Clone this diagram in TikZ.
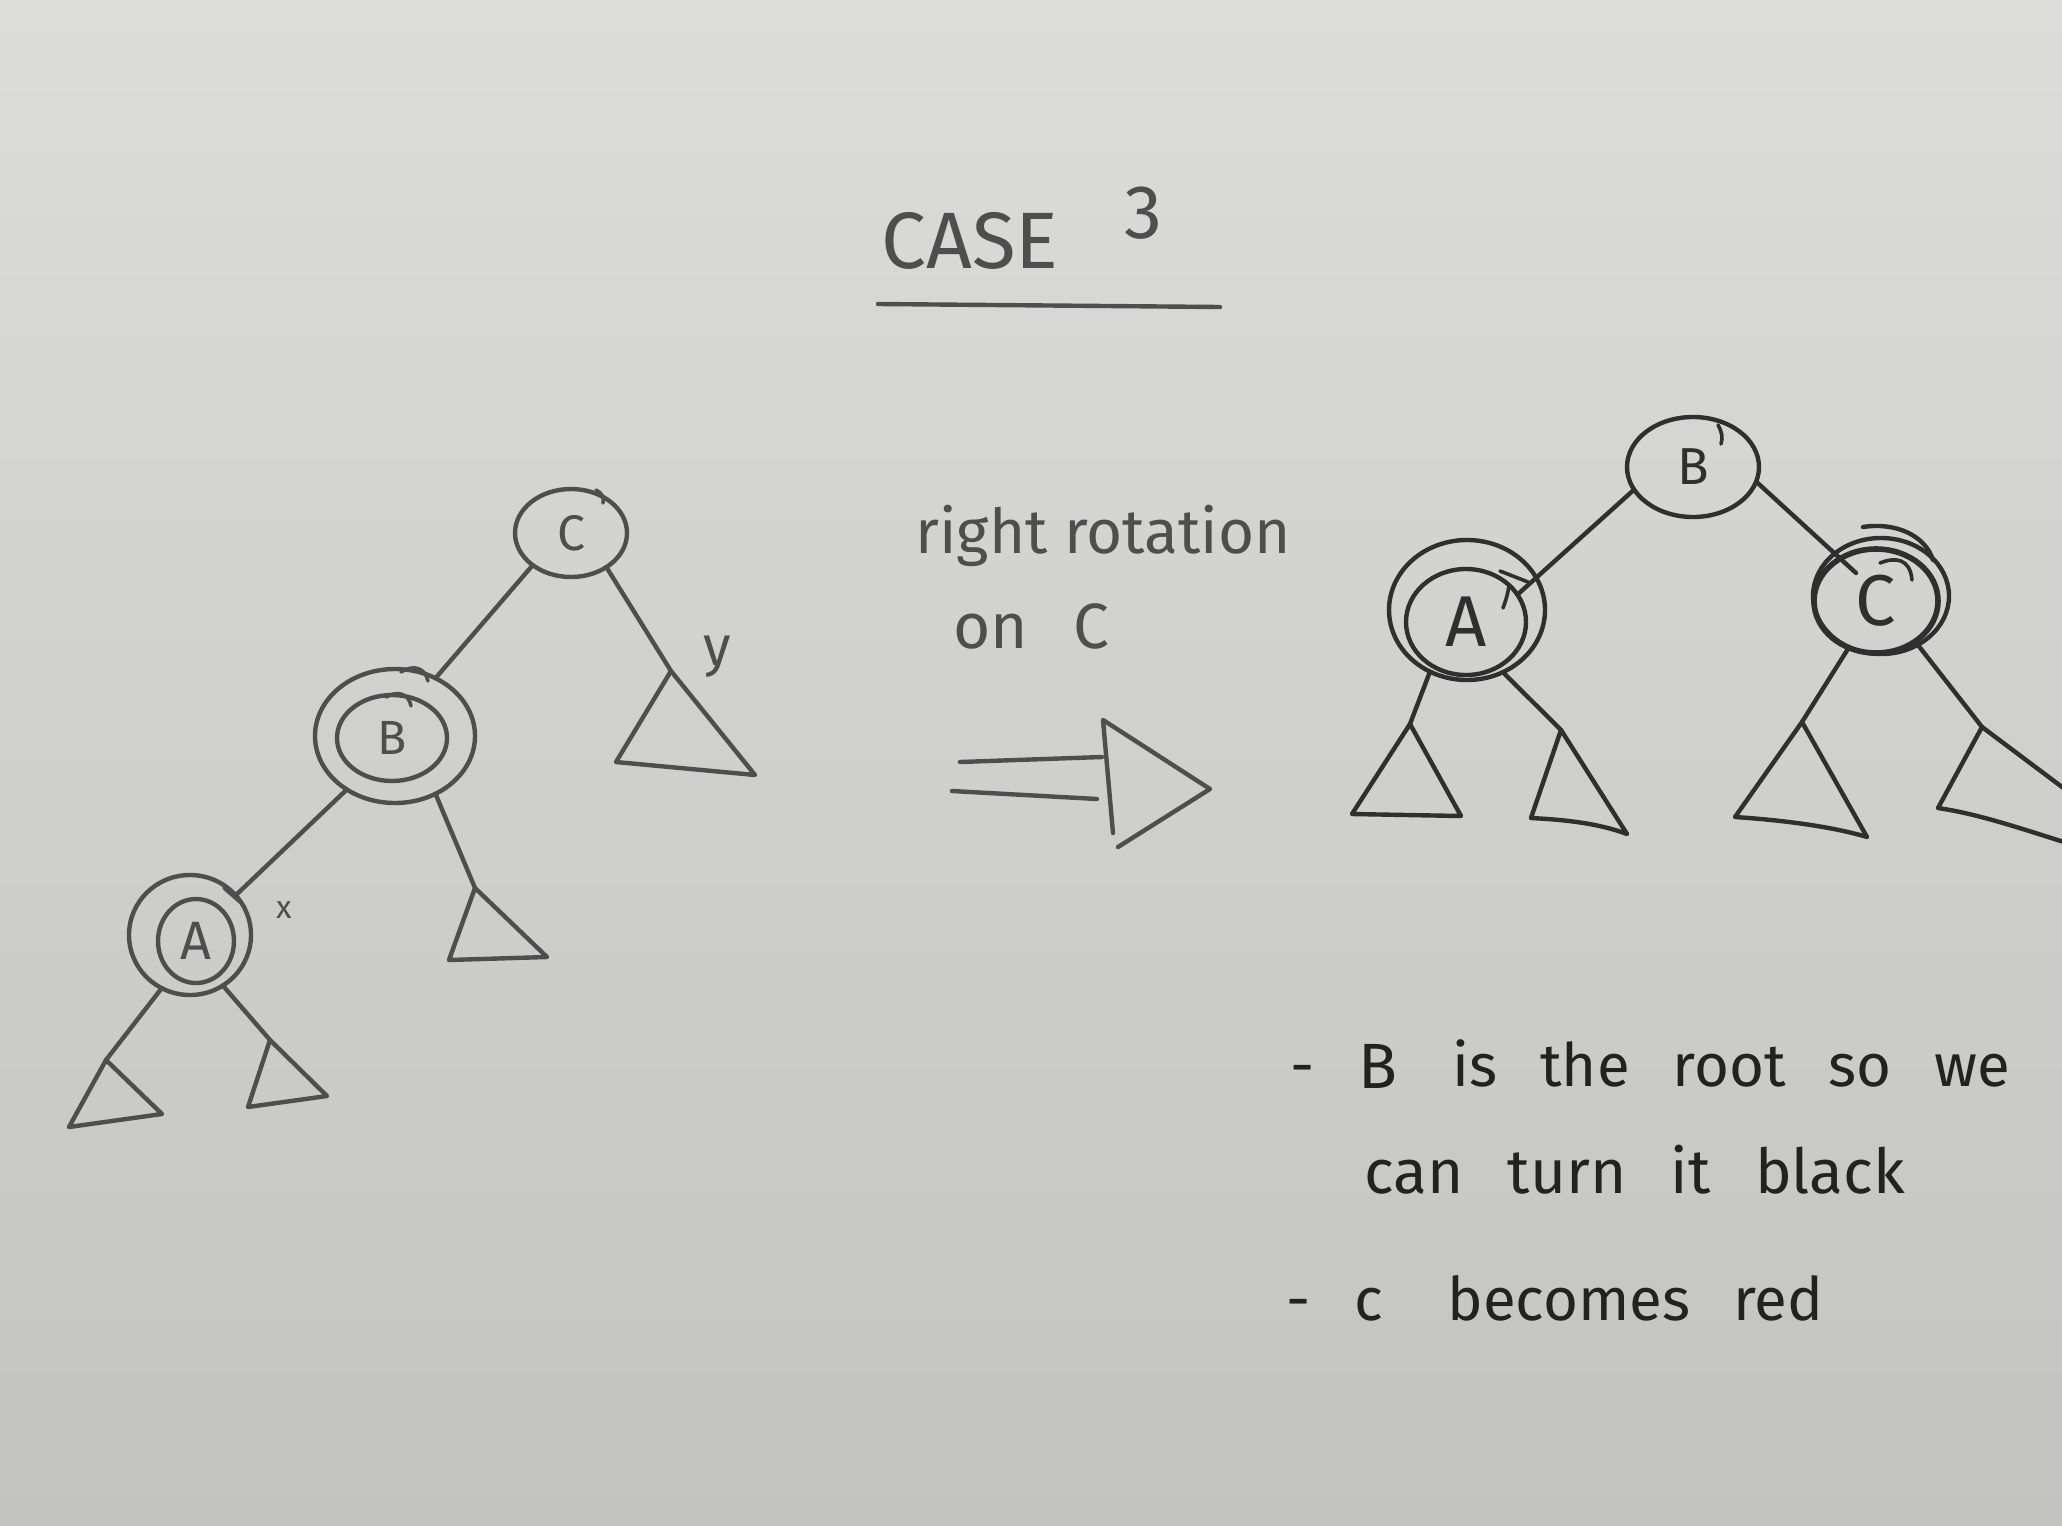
\documentclass[tikz,border=0pt]{standalone}
\usepackage{fontspec}
\setmainfont{Fira Sans}
\newfontfamily\notefont{Fira Sans}[WordSpace=2.7]
\usetikzlibrary{shapes.geometric,calc,fadings}
\definecolor{boardtop}{HTML}{DCDCDA}
\definecolor{boardbot}{HTML}{C3C3C1}
\definecolor{inkL}{HTML}{4E4E4E}
\definecolor{inkR}{HTML}{2F2F2F}
\definecolor{inkT}{HTML}{222222}
\newcommand{\fsz}[1]{\fontsize{#1}{#1}\selectfont}
\tikzfading[name=vstrip,left color=transparent!100,middle color=transparent!65,right color=transparent!100]
\begin{document}
\begin{tikzpicture}[x=0.5pt,y=-0.5pt,
  pen/.style={line width=2.2pt,line cap=round,line join=round},
  lpen/.style={pen,draw=inkL},
  rpen/.style={pen,draw=inkR},
  ring/.style={ellipse,draw,line width=2.2pt,inner sep=0pt,outer sep=0pt},
  lring/.style={ring,draw=inkL,text=inkL},
  rring/.style={ring,draw=inkR,text=inkR},
  hand/.style={inner sep=0pt,anchor=base west},
  scrib/.style={line width=1.8pt,line cap=round}
]
\useasboundingbox (0,0) rectangle (2062,1526);
\shade[top color=boardtop,bottom color=boardbot] (0,0) rectangle (2062,1526);
\fill[white,path fading=vstrip] (1610,380) rectangle (1740,1526);

% ---------- title ----------
\node[hand,text=inkL,font=\fsz{40}] (title) at (881,268) {CASE};
\node[hand,text=inkL,font=\fsz{38}] (three) at (1124,238) {3};
\coordinate (ulA) at (878,304);
\coordinate (ulB) at (1220,307);
\draw[lpen] (ulA) -- (ulB);

% ---------- rotation caption ----------
\node[hand,text=inkL,font=\fsz{31}] (rot) at (915,553) {right rotation};
\node[hand,text=inkL,font=\fsz{32}] (onC) at (953,648) {on\hspace{0.7em}C};

% ---------- arrow ----------
\coordinate (s1a) at (960,762);  \coordinate (s1b) at (1102,757);
\coordinate (s2a) at (952,791);  \coordinate (s2b) at (1097,799);
\coordinate (hA) at (1103,720);  \coordinate (hB) at (1113,833);
\coordinate (hT) at (1210,789);  \coordinate (hC) at (1118,847);
\draw[lpen] (s1a) -- (s1b);
\draw[lpen] (s2a) -- (s2b);
\draw[lpen] (hB) -- (hA) -- (hT) -- (hC);

% ---------- left tree ----------
\node[lring,minimum width=56pt,minimum height=44pt,font=\fsz{25}] (lC) at (571,533) {C};
\node[lring,minimum width=80pt,minimum height=67pt] (lB) at (395,736) {};
\node[lring,minimum width=55pt,minimum height=43pt,font=\fsz{24}] (lBi) at (392,738) {B};
\node[lring,minimum width=61pt,minimum height=60pt] (lA) at (190,935) {};
\node[lring,minimum width=38pt,minimum height=42pt,font=\fsz{27}] (lAi) at (196,941) {A};

\coordinate (lTy) at (671,671);
\coordinate (lTb) at (475,888);
\coordinate (lTa1) at (106,1060);
\coordinate (lTa2) at (270,1040);

\draw[lpen] (lC.220) -- (lB.55);
\draw[lpen] (lC.-44) -- (lTy);
\draw[lpen] (lTy) -- (616,762) -- (755,775) -- cycle;
\draw[lpen] (lB.228) -- (lA.41);
\draw[lpen] (lB.-55) -- (lTb);
\draw[lpen] (lTb) -- (449,960) -- (547,957) -- cycle;
\draw[lpen] (lA.242) -- (lTa1);
\draw[lpen] (lTa1) -- (69,1127) -- (162,1114) -- cycle;
\draw[lpen] (lA.-57) -- (lTa2);
\draw[lpen] (lTa2) -- (248,1107) -- (327,1096) -- cycle;

\node[text=inkL,font=\fsz{16}] (lx) at (284,910) {x};
\node[text=inkL,font=\fsz{28}] (ly) at (717,657) {y};

% little hand marks
\draw[scrib,draw=inkL] (401,672) .. controls (414,664) and (425,668) .. (428,681);
\draw[scrib,draw=inkL] (386,697) .. controls (398,690) and (409,694) .. (411,706);
\draw[scrib,draw=inkL] (596,490) .. controls (602,493) and (604,497) .. (603,503);
\draw[scrib,draw=inkL] (224,888) -- (240,902);

% ---------- right tree ----------
\node[rring,minimum width=66pt,minimum height=50pt,font=\fsz{26}] (rB) at (1693,467) {B};
\node[rring,minimum width=78pt,minimum height=70pt] (rA) at (1467,610) {};
\node[rring,minimum width=60pt,minimum height=53pt,font=\fsz{36}] (rAi) at (1466,622) {A};
\node[rring,minimum width=68pt,minimum height=58pt] (rC) at (1881,596) {};
\node[rring,line width=2.8pt,minimum width=62pt,minimum height=52pt,font=\fsz{36}] (rCi) at (1876,601) {C};

\coordinate (rT1) at (1410,724);
\coordinate (rT2) at (1561,730);
\coordinate (rT3) at (1802,722);
\coordinate (rT4) at (1982,727);

\draw[rpen] (rB.201) -- (rAi.28);
\draw[rpen] (rB.-13) -- ($(rCi.center)+(-20,-28)$);
\draw[rpen] (rA.239) -- (rT1);
\draw[rpen] (rT1) -- (1352,814) -- (1461,816) -- cycle;
\draw[rpen] (rA.-60) -- (rT2);
\draw[rpen] (rT2) -- (1531,818) .. controls (1570,820) and (1600,824) .. (1627,834) -- cycle;
\draw[rpen] (rC.238) -- (rT3);
\draw[rpen] (rT3) -- (1735,817) .. controls (1780,820) and (1830,826) .. (1867,837) -- cycle;
\draw[rpen] (rC.-53) -- (rT4);
\draw[rpen] (rT4) -- (1938,808) .. controls (1985,815) and (2030,832) .. (2090,850);
\draw[rpen] (rT4) -- (2090,808);

% little hand marks
\draw[scrib,draw=inkR] (1718,425) .. controls (1722,432) and (1723,438) .. (1721,444);
\draw[scrib,draw=inkR] (1500,571) -- (1528,582);
\draw[scrib,draw=inkR] (1503,608) .. controls (1506,600) and (1508,593) .. (1509,586);
\draw[scrib,draw=inkR,line width=2.2pt] (1863,527) .. controls (1895,522) and (1925,535) .. (1933,560);
\draw[scrib,draw=inkR] (1880,563) .. controls (1895,557) and (1910,558) .. (1912,580);

% ---------- notes ----------
\node[hand,text=inkT,font=\fsz{30}] (d1) at (1290,1086) {-};
\node[hand,text=inkT,font=\fsz{32}] (nB) at (1358,1088) {B};
\node[hand,text=inkT,font=\notefont\fsz{30}] (n1) at (1452,1086) {is the root so we};
\node[hand,text=inkT,font=\notefont\fsz{31}] (n2) at (1364,1193) {can turn it black};
\node[hand,text=inkT,font=\fsz{30}] (d2) at (1286,1320) {-};
\node[hand,text=inkT,font=\fsz{30}] (n3c) at (1354,1320) {c};
\node[hand,text=inkT,font=\notefont\fsz{30}] (n3) at (1447,1320) {becomes red};
\end{tikzpicture}
\end{document}
